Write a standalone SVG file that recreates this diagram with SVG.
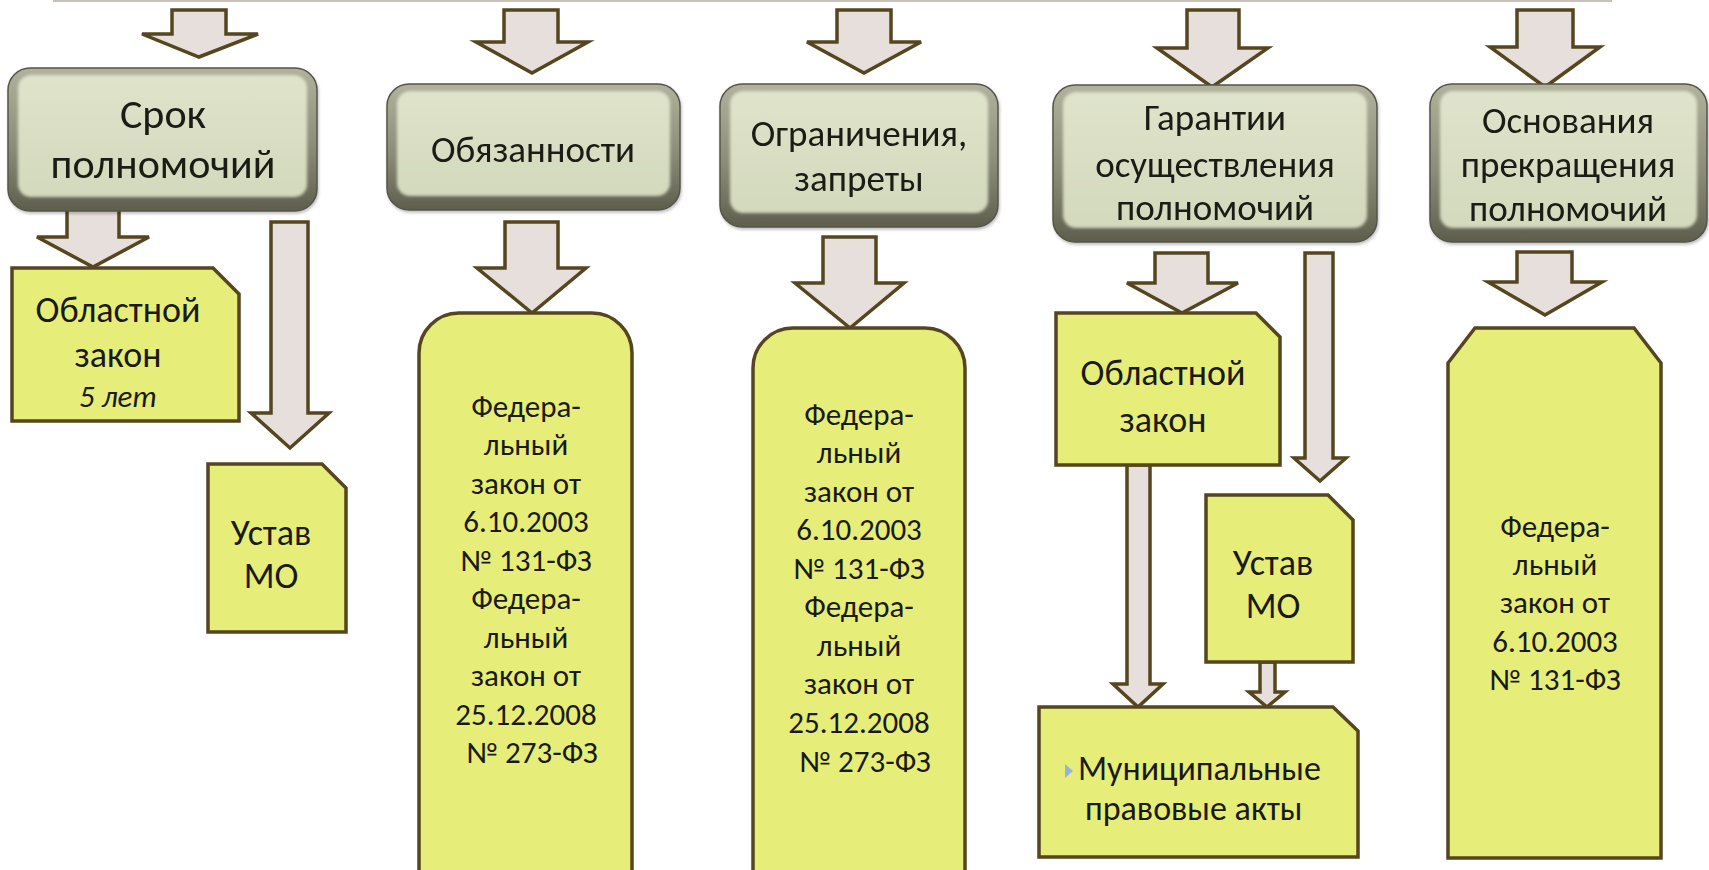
<svg xmlns="http://www.w3.org/2000/svg" width="1709" height="870" viewBox="0 0 1709 870">
<defs>
<linearGradient id="frame" x1="0" y1="0" x2="0" y2="1">
<stop offset="0" stop-color="#b1b29c"/>
<stop offset="0.55" stop-color="#8c8d78"/>
<stop offset="1" stop-color="#5e5e4d"/>
</linearGradient>
<linearGradient id="face" x1="0" y1="0" x2="0" y2="1">
<stop offset="0" stop-color="#dfe3cb"/>
<stop offset="1" stop-color="#d3d9bc"/>
</linearGradient>
<filter id="soft" x="-5%" y="-5%" width="110%" height="110%">
<feGaussianBlur stdDeviation="1.6"/>
</filter>
<filter id="shadow" x="-5%" y="-5%" width="112%" height="115%">
<feGaussianBlur in="SourceAlpha" stdDeviation="1.5"/>
<feOffset dx="1" dy="1.5" result="b"/>
<feComponentTransfer><feFuncA type="linear" slope="0.25"/></feComponentTransfer>
<feMerge><feMergeNode/><feMergeNode in="SourceGraphic"/></feMerge>
</filter>
</defs>
<style>
.frame{fill:url(#frame);stroke:#55544a;stroke-width:1.5}
.face{fill:url(#face)}
.doc{fill:#e6ee79;stroke:#56461f;stroke-width:3.5;stroke-linejoin:miter}
.arr{fill:#e6dfdc;stroke:#56461f;stroke-width:3.5;stroke-linejoin:miter}
text{font-family:Carlito,Lato,"Noto Sans",sans-serif;fill:#1a1a12;text-anchor:middle}
.h{font-size:37px}
.h1{font-size:42px}
.t{font-size:31px}
.m{font-size:36px}
.mu{font-size:34px}
.it{font-size:31px;font-style:italic}
.l{text-anchor:start}
</style>
<line x1="53" y1="1" x2="1612" y2="1" stroke="#c9c1b9" stroke-width="2"/>

<g id="connectors">
<polygon class="arr" points="172,10 226,10 226,34 258,34 199,57 142,34 172,34"/>
<polygon class="arr" points="67,207 119,207 119,237 149,237 93,267 37,237 67,237"/>
<polygon class="arr" points="271,222 308,222 308,413 329,413 290,448 251,413 271,413"/>
<polygon class="arr" points="504,10 558,10 558,42 588,42 532,73 476,42 504,42"/>
<polygon class="arr" points="505,222 558,222 558,268 586,268 532,313 477,268 505,268"/>
<polygon class="arr" points="837,10 891,10 891,42 921,42 864,73 807,42 837,42"/>
<polygon class="arr" points="823,237 876,237 876,283 904,283 850,328 795,283 823,283"/>
<polygon class="arr" points="1187,10 1239,10 1239,48 1268,48 1212,87 1157,48 1187,48"/>
<polygon class="arr" points="1155,253 1208,253 1208,283 1238,283 1182,313 1127,283 1155,283"/>
<polygon class="arr" points="1305,253 1333,253 1333,458 1346,458 1320,481 1294,458 1305,458"/>
<polygon class="arr" points="1127,465 1150,465 1150,684 1163,684 1138,707 1113,684 1127,684"/>
<polygon class="arr" points="1260,662 1275,662 1275,692 1285,692 1267,707 1249,692 1260,692"/>
<polygon class="arr" points="1517,10 1573,10 1573,47 1600,47 1545,87 1490,47 1517,47"/>
<polygon class="arr" points="1517,252 1572,252 1572,282 1602,282 1545,315 1488,282 1517,282"/>
</g>

<g id="h1" filter="url(#shadow)">
<rect class="frame" x="8" y="68" width="309" height="143" rx="22"/>
<rect class="face" x="18" y="75" width="289" height="122" rx="13" filter="url(#soft)"/>
<text class="h1" x="163" y="128">Срок</text>
<text class="h1" x="163" y="178">полномочий</text>
</g>
<g id="h2" filter="url(#shadow)">
<rect class="frame" x="387" y="84" width="293" height="126" rx="22"/>
<rect class="face" x="397" y="91" width="273" height="105" rx="13" filter="url(#soft)"/>
<text class="h" x="533" y="162">Обязанности</text>
</g>
<g id="h3" filter="url(#shadow)">
<rect class="frame" x="720" y="84" width="278" height="143" rx="22"/>
<rect class="face" x="730" y="91" width="258" height="122" rx="13" filter="url(#soft)"/>
<text class="h" x="859" y="146">Ограничения,</text>
<text class="h" x="859" y="191">запреты</text>
</g>
<g id="h4" filter="url(#shadow)">
<rect class="frame" x="1053" y="85" width="324" height="157" rx="22"/>
<rect class="face" x="1063" y="92" width="304" height="136" rx="13" filter="url(#soft)"/>
<text class="h" x="1215" y="130">Гарантии</text>
<text class="h" x="1215" y="177">осуществления</text>
<text class="h" x="1215" y="220">полномочий</text>
</g>
<g id="h5" filter="url(#shadow)">
<rect class="frame" x="1430" y="84" width="277" height="158" rx="22"/>
<rect class="face" x="1440" y="91" width="257" height="137" rx="13" filter="url(#soft)"/>
<text class="h" x="1568" y="133">Основания</text>
<text class="h" x="1568" y="177">прекращения</text>
<text class="h" x="1568" y="221">полномочий</text>
</g>

<g id="y1">
<polygon class="doc" points="12,268 213,268 239,294 239,421 12,421"/>
<text class="m" x="118" y="322">Областной</text>
<text class="m" x="118" y="367">закон</text>
<text class="it" x="118" y="407">5 лет</text>
</g>
<g id="y2">
<polygon class="doc" points="208,464 322,464 346,488 346,632 208,632"/>
<text class="m" x="271" y="545">Устав</text>
<text class="m" x="271" y="588">МО</text>
</g>
<g id="y3">
<path class="doc" d="M419,890 V353 A40,40 0 0 1 459,313 H592 A40,40 0 0 1 632,353 V890"/>
<text class="t" x="526" y="417">Федера-</text>
<text class="t" x="526" y="455">льный</text>
<text class="t" x="526" y="494">закон от</text>
<text class="t" x="526" y="532">6.10.2003</text>
<text class="t" x="526" y="571">№ 131-ФЗ</text>
<text class="t" x="526" y="609">Федера-</text>
<text class="t" x="526" y="648">льный</text>
<text class="t" x="526" y="686">закон от</text>
<text class="t" x="526" y="725">25.12.2008</text>
<text class="t" x="532" y="763">№ 273-ФЗ</text>
</g>
<g id="y4">
<path class="doc" d="M753,890 V368 A40,40 0 0 1 793,328 H925 A40,40 0 0 1 965,368 V890"/>
<text class="t" x="859" y="425">Федера-</text>
<text class="t" x="859" y="463">льный</text>
<text class="t" x="859" y="502">закон от</text>
<text class="t" x="859" y="540">6.10.2003</text>
<text class="t" x="859" y="579">№ 131-ФЗ</text>
<text class="t" x="859" y="617">Федера-</text>
<text class="t" x="859" y="656">льный</text>
<text class="t" x="859" y="694">закон от</text>
<text class="t" x="859" y="733">25.12.2008</text>
<text class="t" x="865" y="772">№ 273-ФЗ</text>
</g>
<g id="y5">
<polygon class="doc" points="1056,313 1256,313 1280,337 1280,465 1056,465"/>
<text class="m" x="1163" y="385">Областной</text>
<text class="m" x="1163" y="432">закон</text>
</g>
<g id="y6">
<polygon class="doc" points="1206,495 1328,495 1353,520 1353,662 1206,662"/>
<text class="m" x="1273" y="575">Устав</text>
<text class="m" x="1273" y="618">МО</text>
</g>
<g id="y7">
<polygon class="doc" points="1039,707 1333,707 1358,731 1358,857 1039,857"/>
<polygon points="1065,764 1073,771 1065,778" fill="#98b4d2"/>
<text class="mu l" x="1078" y="780">Муниципальные</text>
<text class="mu l" x="1085" y="820">правовые акты</text>
</g>
<g id="y8">
<polygon class="doc" points="1448,363 1475,328 1634,328 1661,363 1661,858 1448,858"/>
<text class="t" x="1555" y="537">Федера-</text>
<text class="t" x="1555" y="575">льный</text>
<text class="t" x="1555" y="613">закон от</text>
<text class="t" x="1555" y="652">6.10.2003</text>
<text class="t" x="1555" y="690">№ 131-ФЗ</text>
</g>
</svg>
